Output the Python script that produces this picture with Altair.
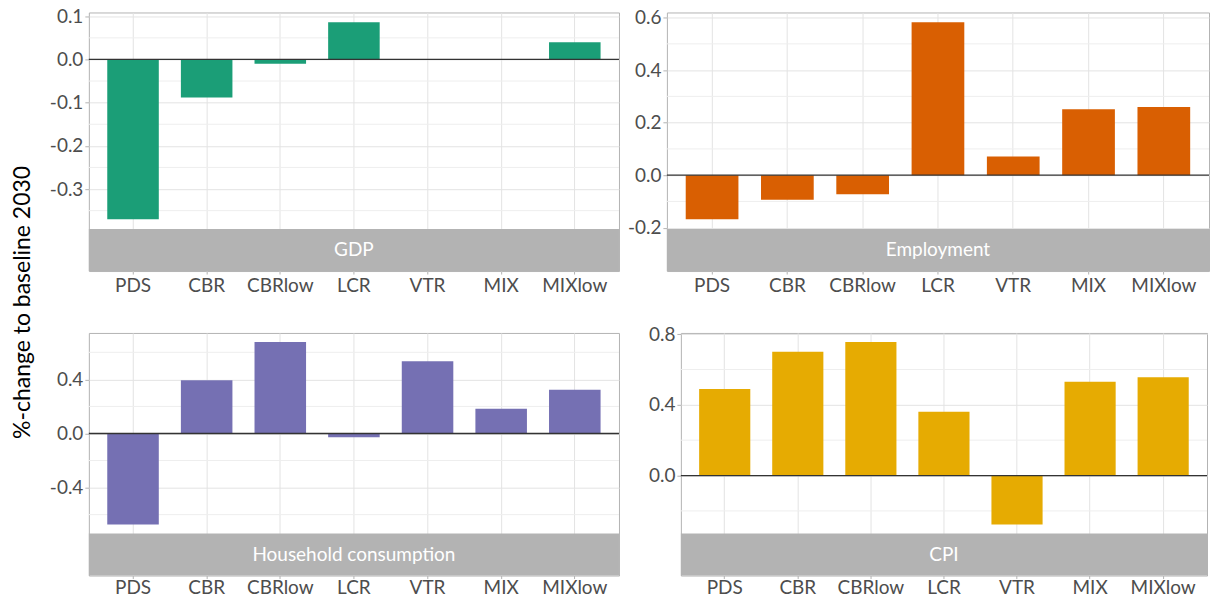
import altair as alt
import pandas as pd

FONT = "Lato"

scenarios = ["PDS", "CBR", "CBRlow", "LCR", "VTR", "MIX", "MIXlow"]

gdp = [-0.370, -0.088, -0.010, 0.086, 0.001, 0.001, 0.040]
employment = [-0.168, -0.094, -0.073, 0.582, 0.071, 0.251, 0.260]
household = [-0.673, 0.393, 0.676, -0.027, 0.535, 0.182, 0.324]
cpi = [0.489, 0.700, 0.755, 0.361, -0.277, 0.530, 0.556]

gdp_major = [-0.3, -0.2, -0.1, 0.0, 0.1]
gdp_minor = [-0.35, -0.25, -0.15, -0.05, 0.05]
emp_major = [-0.2, 0.0, 0.2, 0.4, 0.6]
emp_minor = [-0.1, 0.1, 0.3, 0.5]
hh_major = [-0.4, 0.0, 0.4]
hh_minor = [-0.6, -0.2, 0.2, 0.6]
cpi_major = [0.0, 0.4, 0.8]
cpi_minor = [-0.2, 0.2, 0.6]

STRIP_H = 42
STRIP_GREY = "#B3B3B3"


def panel(name, values, color, major, minor, width, plot_h, y_extent, x_pad):
    # ggplot-like 5% expansion around the data (zero included)
    lo = min(min(values), 0.0)
    hi = max(max(values), 0.0)
    span = hi - lo
    lo -= 0.05 * span
    hi += 0.05 * span
    # extend the scale downwards so the strip sits below the data area
    lo_ext = lo - (hi - lo) * STRIP_H / plot_h
    total_h = plot_h + STRIP_H

    yscale = alt.Scale(domain=[lo_ext, hi], nice=False, zero=False)
    yaxis = alt.Axis(
        values=major,
        title=None,
        labelExpr="replace(format(datum.value, '.1f'), '\u2212', '-')",
        minExtent=y_extent,
        maxExtent=y_extent,
    )
    xscale = alt.Scale(domain=scenarios, paddingInner=0.3, paddingOuter=0.25)
    xaxis = alt.Axis(
        title=None,
        labelAngle=0,
        grid=True,
        bandPosition=0.5,
        tickBand="center",
        tickSize=3,
        labelPadding=x_pad,
    )

    df = pd.DataFrame({"scenario": scenarios, "value": values})
    minor_df = pd.DataFrame({"value": minor})
    zero_df = pd.DataFrame({"value": [0.0]})
    strip_df = pd.DataFrame({"panel": [name]})

    minor_rules = alt.Chart(minor_df).mark_rule(color="#EEEEEE", strokeWidth=1).encode(
        y=alt.Y("value:Q", scale=yscale, axis=yaxis)
    )
    bars = alt.Chart(df).mark_bar(color=color).encode(
        x=alt.X("scenario:N", scale=xscale, sort=scenarios, axis=xaxis),
        y=alt.Y("value:Q", scale=yscale, axis=yaxis),
        y2=alt.datum(0),
    )
    zero = alt.Chart(zero_df).mark_rule(color="#333333", strokeWidth=1.3).encode(
        y=alt.Y("value:Q", scale=yscale, axis=yaxis)
    )
    strip = alt.Chart(strip_df).mark_rect(color=STRIP_GREY).encode(
        x=alt.value(0),
        x2=alt.value(width),
        y=alt.value(plot_h),
        y2=alt.value(total_h),
    )
    strip_text = alt.Chart(strip_df).mark_text(
        color="white", font=FONT, fontSize=19, baseline="middle", align="center"
    ).encode(
        x=alt.value(width / 2),
        y=alt.value(plot_h + STRIP_H / 2),
        text="panel:N",
    )
    return alt.layer(minor_rules, bars, zero, strip, strip_text).properties(
        width=width, height=total_h
    )


p_gdp = panel("GDP", gdp, "#1B9E77", gdp_major, gdp_minor, 531, 217, 47, 2)
p_emp = panel("Employment", employment, "#D95F02", emp_major, emp_minor, 543, 217, 39, 2)
p_hh = panel("Household consumption", household, "#7570B3", hh_major, hh_minor, 531, 201, 47, 0)
p_cpi = panel("CPI", cpi, "#E6AB02", cpi_major, cpi_minor, 527, 201, 54, 0)

row1 = alt.hconcat(p_gdp, p_emp, spacing=5)
row2 = alt.hconcat(p_hh, p_cpi, spacing=5)

chart = (
    alt.vconcat(row1, row2, spacing=28)
    .properties(
        title=alt.TitleParams(
            text="%-change to baseline 2030",
            orient="left",
            anchor="middle",
            font=FONT,
            fontSize=23,
            fontWeight="normal",
            color="#000000",
            offset=6,
        ),
        padding={"left": 12, "top": 6, "right": 0, "bottom": 0},
    )
    .configure_view(stroke=STRIP_GREY, strokeWidth=1)
    .configure_axis(
        labelFont=FONT,
        labelFontSize=19,
        labelColor="#4D4D4D",
        domain=False,
        tickColor=STRIP_GREY,
        tickSize=4,
        labelPadding=2,
        gridColor="#E3E3E3",
        gridWidth=1,
    )
    .configure_axisX(minExtent=21, maxExtent=21)
)

chart.save("out.html", embed_options={"renderer": "svg", "actions": False})
